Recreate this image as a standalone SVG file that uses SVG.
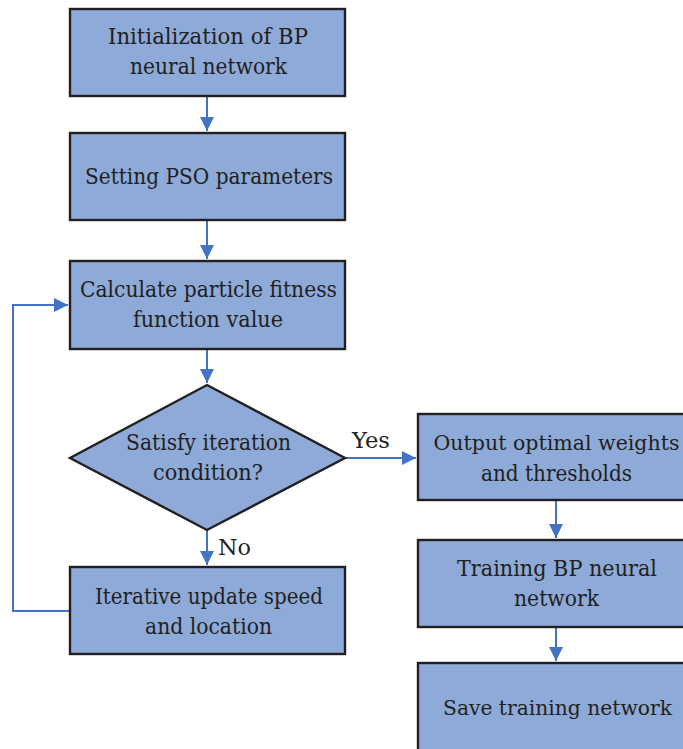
<svg xmlns="http://www.w3.org/2000/svg" width="683" height="749" viewBox="0 0 683 749" font-family="DejaVu Serif, Liberation Serif, serif">
<defs>
<style>
.box{fill:#8eaad8;stroke:#231f20;stroke-width:2.4}
.t{font-family:'DejaVu Serif','Liberation Serif',serif;font-size:23px;fill:#231f20;text-anchor:middle}
.s{font-size:20px}
.c{fill:none;stroke:#4472c4;stroke-width:2}
</style>
<marker id="ah" viewBox="0 0 14 14" refX="14" refY="7" markerWidth="14" markerHeight="14" markerUnits="userSpaceOnUse" orient="auto">
<path d="M0,0 L14,7 L0,14 z" fill="#4472c4"/>
</marker>
</defs>
<rect width="683" height="749" fill="#fff"/>
<g id="connectors">
<path class="c" d="M207,96 V131" marker-end="url(#ah)"/>
<path class="c" d="M207,220 V259" marker-end="url(#ah)"/>
<path class="c" d="M207,349 V383" marker-end="url(#ah)"/>
<path class="c" d="M207,530 V565" marker-end="url(#ah)"/>
<path class="c" d="M345,458 H416" marker-end="url(#ah)"/>
<path class="c" d="M556,500 V538" marker-end="url(#ah)"/>
<path class="c" d="M556,627 V661" marker-end="url(#ah)"/>
<path class="c" d="M70,611 H13 V305 H68" marker-end="url(#ah)"/>
<text class="t" x="371" y="448" textLength="38" lengthAdjust="spacingAndGlyphs">Yes</text>
<text class="t" x="234.5" y="555" textLength="33" lengthAdjust="spacingAndGlyphs">No</text>
</g>
<g id="n1"><rect class="box" x="70" y="9" width="275" height="87"/>
<text class="t" x="208" y="44" textLength="200" lengthAdjust="spacingAndGlyphs">Initialization of BP</text>
<text class="t" x="208.5" y="74" textLength="157" lengthAdjust="spacingAndGlyphs">neural network</text></g>
<g id="n2"><rect class="box" x="70" y="133" width="275" height="87"/>
<text class="t" x="209" y="184" textLength="248" lengthAdjust="spacingAndGlyphs">Setting PSO parameters</text></g>
<g id="n3"><rect class="box" x="70" y="261" width="275" height="88"/>
<text class="t" x="208.5" y="297" textLength="257" lengthAdjust="spacingAndGlyphs">Calculate particle fitness</text>
<text class="t" x="208" y="327" textLength="150" lengthAdjust="spacingAndGlyphs">function value</text></g>
<g id="n4"><path class="box" d="M207,385 L345,458 L207,530 L70,458 Z"/>
<text class="t" x="208.5" y="450" textLength="165" lengthAdjust="spacingAndGlyphs">Satisfy iteration</text>
<text class="t" x="208" y="480" textLength="110" lengthAdjust="spacingAndGlyphs">condition?</text></g>
<g id="n5"><rect class="box" x="70" y="567" width="275" height="87"/>
<text class="t" x="209" y="604" textLength="228" lengthAdjust="spacingAndGlyphs">Iterative update speed</text>
<text class="t" x="208.5" y="634" textLength="127" lengthAdjust="spacingAndGlyphs">and location</text></g>
<g id="n6"><rect class="box" x="418" y="414" width="280" height="86"/>
<text class="t s" x="556.5" y="450" textLength="246" lengthAdjust="spacingAndGlyphs">Output optimal weights</text>
<text class="t" x="556.5" y="481" textLength="151" lengthAdjust="spacingAndGlyphs">and thresholds</text></g>
<g id="n7"><rect class="box" x="418" y="540" width="280" height="87"/>
<text class="t" x="557" y="576" textLength="200" lengthAdjust="spacingAndGlyphs">Training BP neural</text>
<text class="t" x="556.5" y="606" textLength="85" lengthAdjust="spacingAndGlyphs">network</text></g>
<g id="n8"><rect class="box" x="418" y="663" width="280" height="100"/>
<text class="t s" x="557.5" y="715" textLength="229" lengthAdjust="spacingAndGlyphs">Save training network</text></g>
</svg>
